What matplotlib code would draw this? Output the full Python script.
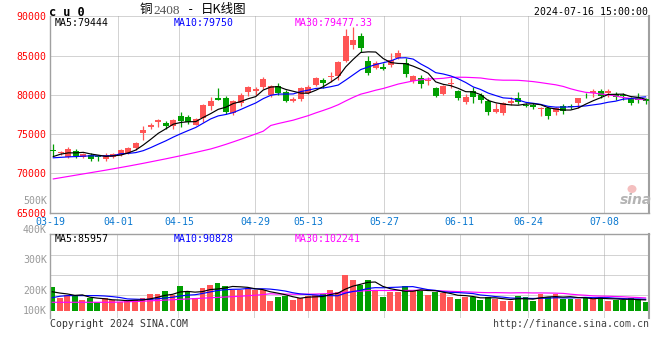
import matplotlib
matplotlib.use('Agg')
import matplotlib.pyplot as plt
from matplotlib.patches import Ellipse
import numpy as np

# ---------------- data ----------------
dates = ['03-19', '03-20', '03-21', '03-22', '03-25', '03-26', '03-27', '03-28', '03-29',
         '04-01', '04-02', '04-03', '04-08', '04-09', '04-10', '04-11', '04-12',
         '04-15', '04-16', '04-17', '04-18', '04-19', '04-22', '04-23', '04-24', '04-25', '04-26',
         '04-29', '04-30', '05-06', '05-07', '05-08', '05-09', '05-10',
         '05-13', '05-14', '05-15', '05-16', '05-17', '05-20', '05-21', '05-22', '05-23', '05-24',
         '05-27', '05-28', '05-29', '05-30', '05-31', '06-03', '06-04', '06-05', '06-06', '06-07',
         '06-11', '06-12', '06-13', '06-14', '06-17', '06-18', '06-19', '06-20', '06-21',
         '06-24', '06-25', '06-26', '06-27', '06-28', '07-01', '07-02', '07-03', '07-04', '07-05',
         '07-08', '07-09', '07-10', '07-11', '07-12', '07-15', '07-16']

opens = [72950, 72650, 72080, 72920, 72080, 72330, 72130, 71820, 72150, 72330,
         72580, 73220, 75130, 75930, 76560, 76480, 76060, 77330, 77160, 76220,
         77040, 78600, 79580, 79660, 77750, 78940, 80380, 80510, 80980, 80040,
         81150, 80380, 79270, 79490, 80300, 81270, 81910, 82250, 82420, 84360,
         86360, 87500, 84320, 83400, 83600, 83780, 84670, 84110, 81820, 82120,
         81740, 80850, 80130, 81400, 80510, 79150, 80510, 80000, 79270, 77880,
         77670, 79020, 79580, 78770, 78730, 78180, 78390, 77880, 78600, 78600,
         78940, 79900, 80300, 80510, 80300, 80130, 80000, 79580, 79550, 79450]
highs = [73770, 72900, 73420, 73090, 72550, 72580, 72330, 72580, 72650, 73170,
         73350, 73980, 76060, 76480, 76990, 76650, 76990, 77840, 77410, 77070,
         78860, 79790, 80890, 79870, 79360, 80210, 81150, 80980, 82330, 81310,
         81570, 80640, 79780, 81060, 81230, 82330, 82120, 82970, 84370, 88400,
         88600, 87850, 84960, 84320, 84030, 85300, 85720, 84670, 82540, 82540,
         82250, 80980, 81310, 82120, 80640, 80080, 80980, 80210, 79450, 79020,
         79060, 79780, 80420, 78940, 78980, 78430, 78520, 78520, 78850, 78850,
         79650, 80300, 80720, 80720, 80720, 80340, 80210, 79780, 80210, 79620]
lows = [72240, 72350, 71950, 71990, 71980, 71640, 71640, 71640, 72000, 72250,
        72420, 72990, 74280, 75710, 75900, 75640, 75640, 75970, 76310, 76140,
        76560, 78090, 79330, 77580, 77460, 78600, 79870, 80000, 80810, 79780,
        79960, 79110, 79070, 79280, 80130, 81150, 80850, 81700, 81910, 84240,
        85810, 85510, 82540, 83280, 83150, 83600, 84540, 82250, 81570, 80890,
        81310, 79780, 80040, 80850, 79360, 78850, 79020, 78940, 77500, 77750,
        77500, 78730, 78850, 78430, 78260, 77330, 76990, 77460, 77580, 78260,
        78350, 79620, 79780, 79660, 79780, 79360, 79360, 78730, 78940, 78850]
closes = [72880, 72780, 73090, 72240, 72450, 71820, 72050, 72330, 72500, 73000,
          73220, 73850, 75550, 76120, 76820, 76060, 76820, 76650, 76560, 76910,
          78730, 79270, 79360, 77880, 79270, 80000, 81060, 80720, 82070, 81150,
          80300, 79270, 79530, 80890, 81060, 82200, 81570, 82420, 84160, 87500,
          87000, 85940, 82840, 84030, 83350, 84450, 85380, 82710, 82420, 81360,
          81910, 79910, 81150, 81570, 79660, 79780, 79780, 79360, 77880, 78220,
          78940, 79240, 79150, 78600, 78430, 78350, 77330, 78310, 77960, 78430,
          79600, 79800, 80500, 79900, 80500, 79700, 79870, 79000, 79400, 79250]
volumes = [189500, 103700, 124800, 124800, 85800, 99100, 67900, 99100, 85800, 72500,
           78000, 85800, 103700, 132600, 132600, 156000, 124800, 195000, 156000, 103700,
           177100, 202800, 218400, 195000, 163800, 163800, 181700, 163800, 163800, 78000,
           111500, 119300, 85800, 103700, 119300, 124800, 130300, 163800, 150500, 280800,
           241800, 202800, 241800, 163800, 111500, 150500, 150500, 195000, 163800, 163800,
           124800, 145900, 138100, 111500, 93600, 111500, 111500, 85800, 111500, 93600,
           78000, 78000, 117000, 111500, 78000, 130300, 111500, 130300, 93600, 93600,
           93600, 103700, 93600, 111500, 78000, 85800, 85800, 99100, 93600, 67900]

ma5_head = [72150, 72460, 72620, 72620]
ma10_head = [71990, 72050, 72110, 72150, 72200, 72240, 72240, 72240, 72260]
ma30_head = [69300, 69460, 69620, 69780, 69940, 70100, 70260, 70420, 70590, 70760,
             70930, 71110, 71290, 71480, 71670, 71860, 72060, 72260, 72470, 72680,
             72900, 73120, 73400, 73700, 74020, 74350, 74690, 75030, 75380]
vma5_head = [150000, 140000, 133000, 122000]
vma10_head = [104000, 115000, 120000, 120000, 120000, 120000, 120000, 117000, 112000]
vma30_head = [68000, 68000, 68000, 68000, 68000, 68000, 68000, 68000, 68000, 70000,
              72000, 74000, 76000, 79000, 82000, 85000, 88000, 91000, 94000, 97000,
              100000, 103000, 106000, 109000, 112000, 115000, 119000, 123000, 128000]

tick_dates = ['03-19', '04-01', '04-15', '04-29', '05-13', '05-27', '06-11', '06-24', '07-08']
price_ticks = [90000, 85000, 80000, 75000, 70000, 65000]
price_grid = [85000, 80000, 75000, 70000]
vol_tick_labels = ['500K', '400K', '300K', '200K', '100K']
price_ma_legend = ['MA5:79444', 'MA10:79750', 'MA30:79477.33']
vol_ma_legend = ['MA5:85957', 'MA10:90828', 'MA30:102241']
title_code = 'c u 0'
title_name = ['铜', '2408', '-', '日K线图']
timestamp = '2024-07-16 15:00:00'
footer_left = 'Copyright 2024 SINA.COM'
footer_right = 'http://finance.sina.com.cn'

# ---------------- style ----------------
W, H = 660, 360
RED = '#FF5555'
GREEN = '#009F00'
GRID = '#A8A8A8'
FRAME = '#A0A0A0'
MONO = 'DejaVu Sans Mono'
FS = 7.1
LW_MA = 0.85
GRID_OFFSET = -0.44      # gridline placement relative to candle slots
GRID_STRETCH = 1.0123
plt.rcParams['font.family'] = [MONO, 'Noto Sans CJK SC']


def fx(px):
    return px / W


def fy(py):
    return 1 - py / H


def rect(x0, y0, x1, y1):
    return [x0 / W, 1 - y1 / H, (x1 - x0) / W, (y1 - y0) / H]


def moving_avg(vals, n, head):
    vals = np.asarray(vals, dtype=float)
    out = list(head)
    for i in range(len(head), len(vals)):
        out.append(vals[i - n + 1:i + 1].mean())
    return np.array(out)


x = np.arange(len(dates))
o = np.array(opens, float)
h = np.array(highs, float)
l = np.array(lows, float)
c = np.array(closes, float)
v = np.array(volumes, float)
up = c >= o
cols = np.where(up, RED, GREEN)

fig = plt.figure(figsize=(6.6, 3.6), dpi=100)
fig.patch.set_facecolor('white')

XLIM = (-0.31, 79.45)
ax = fig.add_axes(rect(50, 16.4, 649, 212.7))
axv = fig.add_axes(rect(50, 234.3, 649, 318))

# ---------- price panel ----------
ax.set_xlim(*XLIM)
ax.set_ylim(65000, 90000)
tick_idx = [dates.index(d) for d in tick_dates]
grid_x = [GRID_OFFSET + i * GRID_STRETCH for i in tick_idx]
for gx in grid_x:
    ax.axvline(gx, color=GRID, lw=0.72, ls=(0, (1, 1)), zorder=0)
    axv.axvline(gx, color=GRID, lw=0.72, ls=(0, (1, 1)), zorder=0)
for gy in price_grid:
    ax.axhline(gy, color=GRID, lw=0.72, ls=(0, (1, 1)), zorder=0)
ax.axhline(90000, color=GRID, lw=0.72, ls=(0, (1, 1)), zorder=0, clip_on=False)

ax.vlines(x, l, h, colors=cols, lw=0.9, zorder=2)
body_h = np.maximum(np.abs(c - o), 110)
ax.bar(x, body_h, bottom=np.minimum(o, c), width=0.78, color=cols, lw=0, zorder=3)

ma5 = moving_avg(c, 5, ma5_head)
ma10 = moving_avg(c, 10, ma10_head)
ma30 = moving_avg(c, 30, ma30_head)
ax.plot(x, ma30, color='#FF00FF', lw=LW_MA, zorder=4)
ax.plot(x, ma10, color='#0000FF', lw=LW_MA, zorder=4)
ax.plot(x, ma5, color='#000000', lw=LW_MA, zorder=4)

ax.set_yticks(price_ticks)
ax.set_yticklabels([str(t) for t in price_ticks], fontsize=FS, color='#FF0000')
ax.set_xticks(grid_x)
ax.set_xticklabels(tick_dates, fontsize=FS, color='#0A78D0')
ax.tick_params(axis='both', length=0)
ax.tick_params(axis='y', pad=2.6)
ax.tick_params(axis='x', pad=3.0)
for s in ['left', 'right', 'bottom']:
    ax.spines[s].set_color(FRAME)
    ax.spines[s].set_linewidth(1.0)
ax.spines['right'].set_linewidth(1.5)
ax.spines['top'].set_visible(False)

# sina watermark
fig.text(fx(636), fy(200), 'sina', fontsize=10, style='italic', fontweight='bold',
         color='#B4B4B4', family='DejaVu Sans', ha='center', va='center')
fig.patches.append(Ellipse((fx(632), fy(189)), 9 / W, 8 / H, transform=fig.transFigure,
                           facecolor='#F4BFBF', edgecolor='none', zorder=5))

# ---------- volume panel ----------
VSCALE = 7800.0  # volume per pixel
axv.set_xlim(*XLIM)
axv.set_ylim((311 - 318) * VSCALE, (311 - 234.3) * VSCALE)
for py in [255, 275, 295]:
    axv.axhline((311 - py) * VSCALE, color=GRID, lw=0.72, ls=(0, (1, 1)), zorder=0)
axv.bar(x, v, width=0.78, color=cols, lw=0, zorder=2)
vma5 = moving_avg(v, 5, vma5_head)
vma10 = moving_avg(v, 10, vma10_head)
vma30 = moving_avg(v, 30, vma30_head)
axv.plot(x, vma30, color='#FF00FF', lw=LW_MA, zorder=4)
axv.plot(x, vma10, color='#0000FF', lw=LW_MA, zorder=4)
axv.plot(x, vma5, color='#000000', lw=LW_MA, zorder=4)
axv.set_xticks([])
axv.set_yticks([])
for s in ['left', 'right', 'top']:
    axv.spines[s].set_color(FRAME)
    axv.spines[s].set_linewidth(1.0)
axv.spines['right'].set_linewidth(1.5)
axv.spines['bottom'].set_visible(False)

vol_label_y = [201, 230, 260, 290.7, 311]
for lab, py in zip(vol_tick_labels, vol_label_y):
    fig.text(fx(47), fy(py), lab, ha='right', va='center', fontsize=FS, color='#999999')

# ---------- texts ----------
fig.text(fx(49), fy(12), title_code, ha='left', va='center', fontsize=8.6, fontweight='bold')
fig.text(fx(140), fy(10), title_name[0], ha='left', va='center', fontsize=9,
         family=['Noto Sans CJK SC'])
fig.text(fx(153), fy(10.5), title_name[1], ha='left', va='center', fontsize=9.5,
         family='Liberation Serif', color='#555555')
fig.text(fx(187), fy(10), title_name[2], ha='left', va='center', fontsize=9)
fig.text(fx(201), fy(10), title_name[3], ha='left', va='center', fontsize=9,
         family=['Noto Sans CJK SC'])
fig.text(fx(648), fy(12), timestamp, ha='right', va='center', fontsize=FS, color='#000000')

leg_cols = ['#000000', '#0000FF', '#FF00FF']
leg_x = [55, 174, 295]
for t, cc, lx in zip(price_ma_legend, leg_cols, leg_x):
    fig.text(fx(lx), fy(23), t, ha='left', va='center', fontsize=FS, color=cc)
for t, cc, lx in zip(vol_ma_legend, leg_cols, leg_x):
    fig.text(fx(lx), fy(239.5), t, ha='left', va='center', fontsize=FS, color=cc)

fig.text(fx(50), fy(324), footer_left, ha='left', va='center', fontsize=FS, color='#333333')
fig.text(fx(649), fy(324), footer_right, ha='right', va='center', fontsize=FS, color='#444444')

fig.savefig('out.png', dpi=100, facecolor='white')
